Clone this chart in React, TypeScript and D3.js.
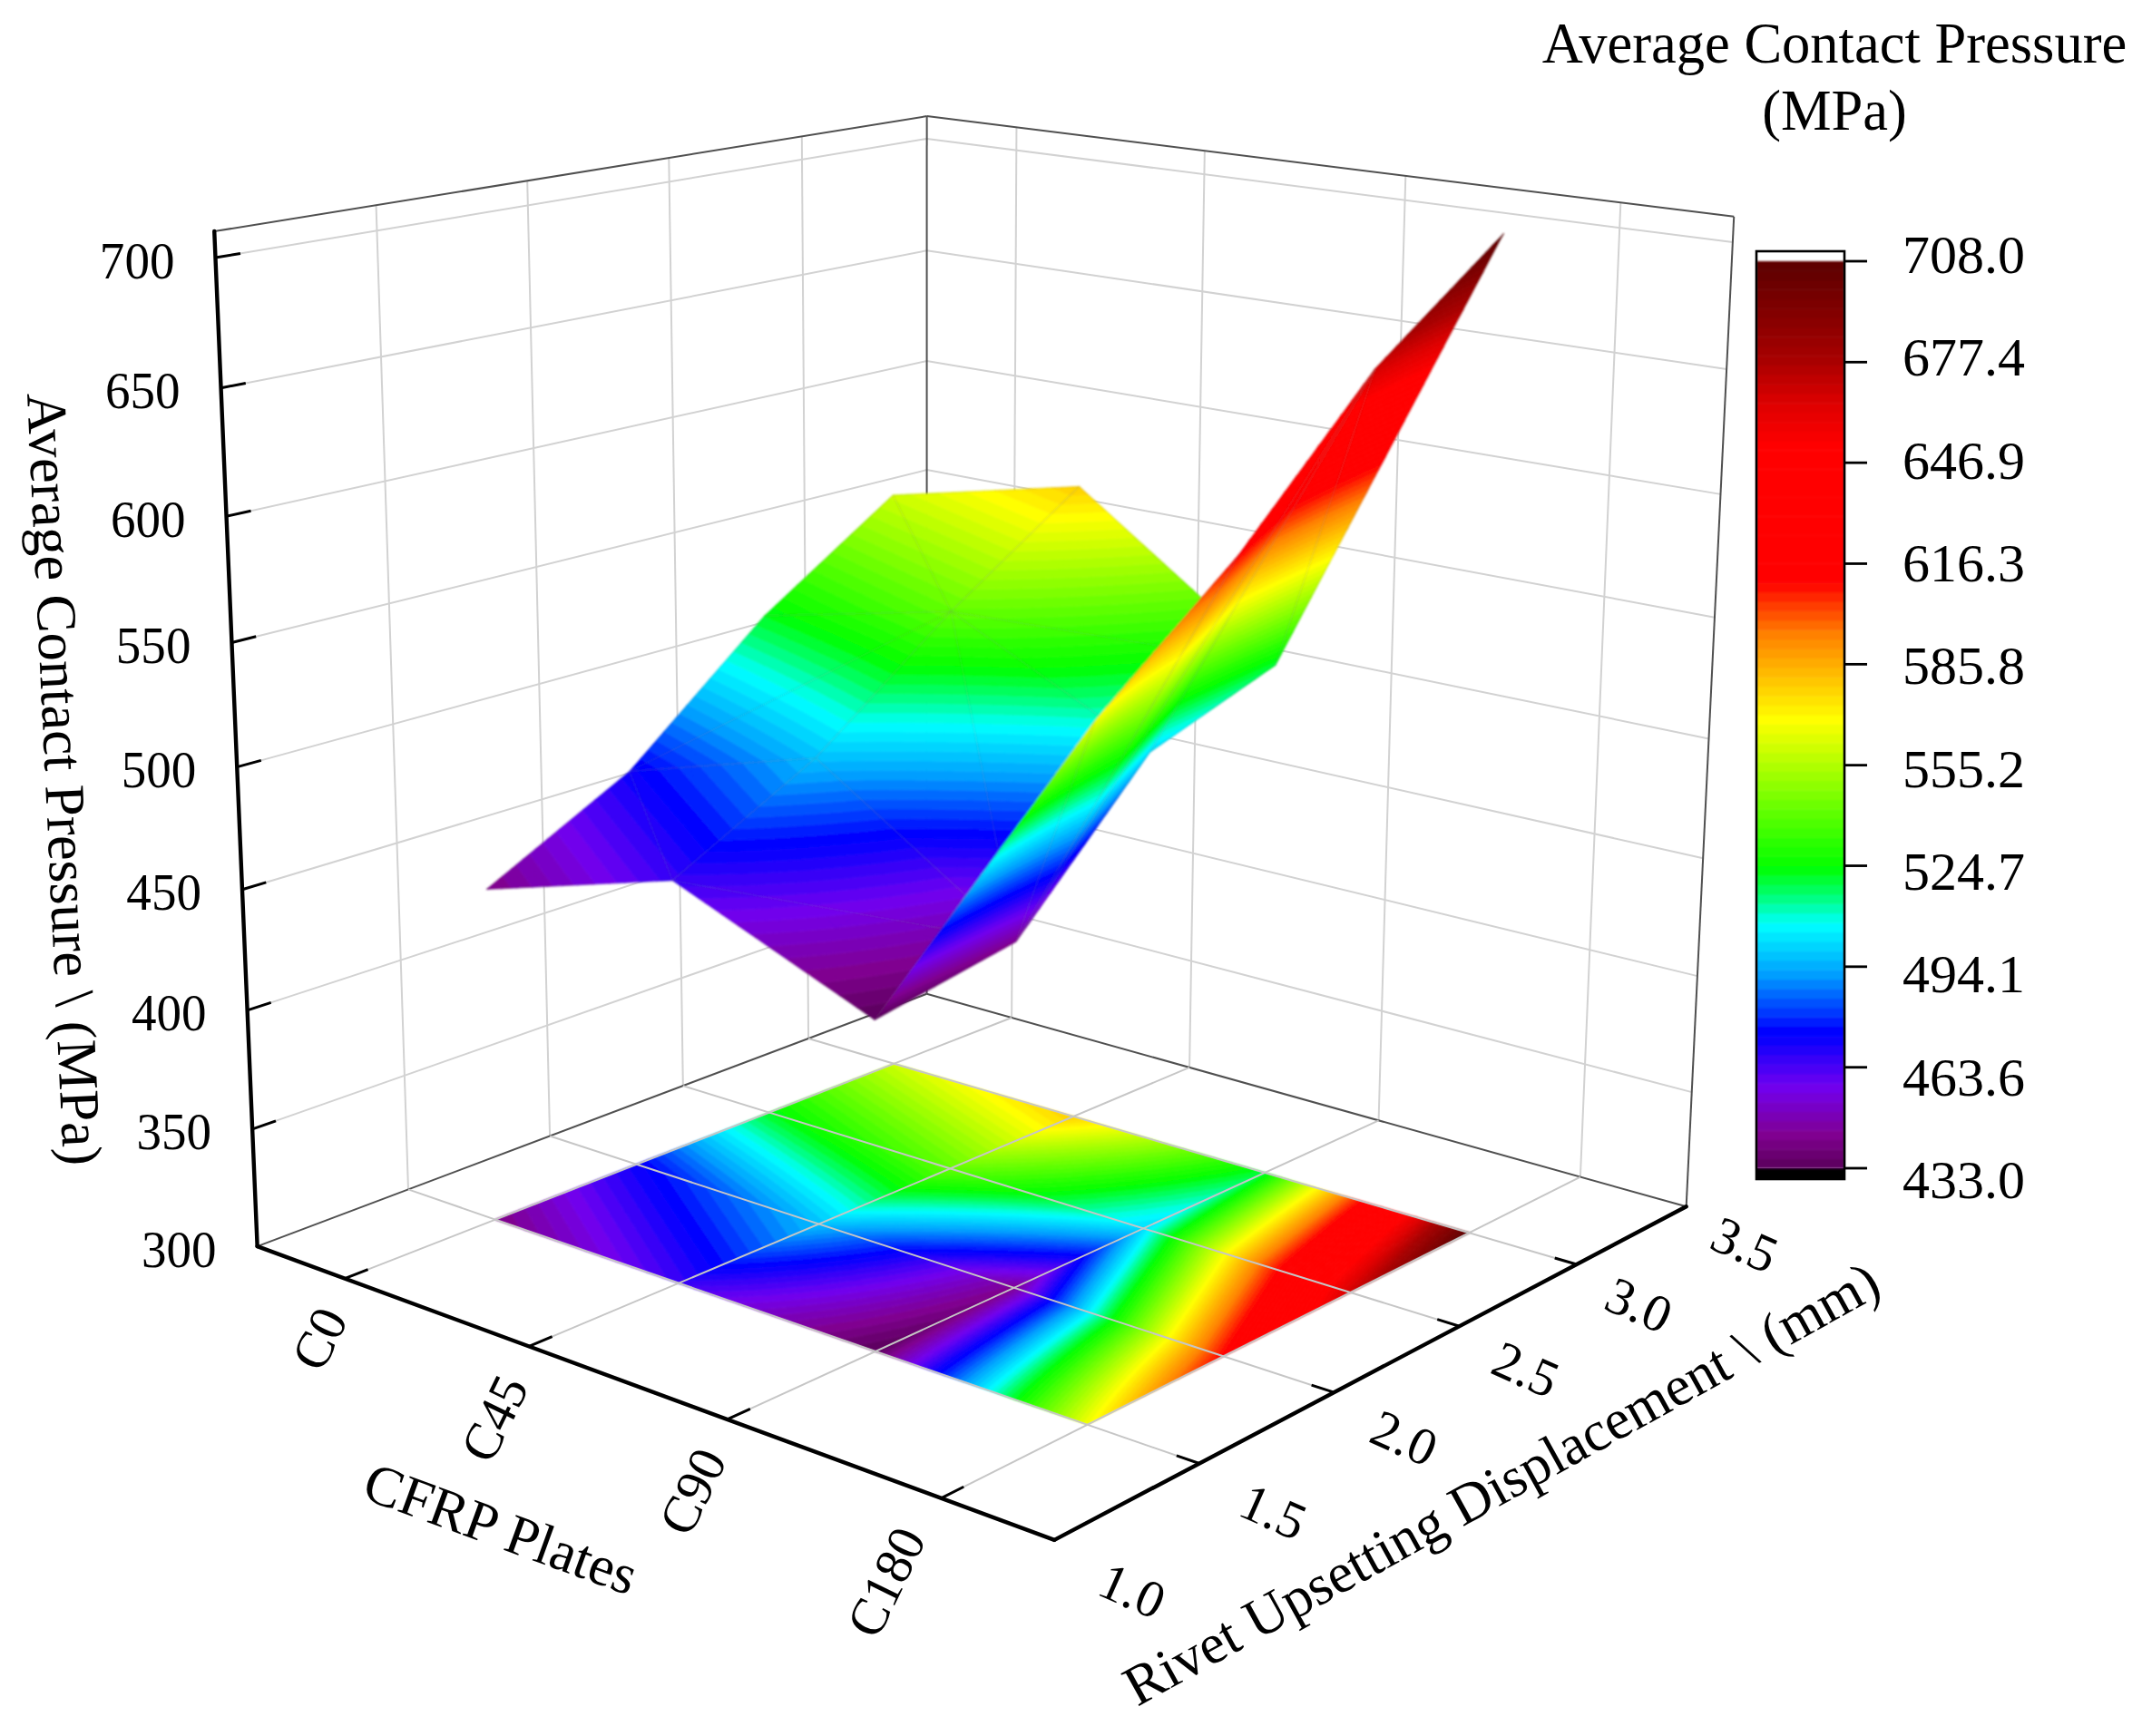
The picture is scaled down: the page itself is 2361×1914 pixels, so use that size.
import * as d3 from "d3";

// data: average contact pressure per CFRP plate, one value per upsetting displacement
const plates = ["C0", "C45", "C90", "C180"];
const displacements = [1.5, 2.0, 2.5, 3.0];
const pressureC0 = [441, 472, 522, 560];
const pressureC45 = [466, 497, 541, 579];
const pressureC90 = [433, 443, 501, 520];
const pressureC180 = [567, 612, 668, 708];
const pressure = [pressureC0, pressureC45, pressureC90, pressureC180];

const displacementTicks = [1.0, 1.5, 2.0, 2.5, 3.0, 3.5];
const pressureTicks = [300, 350, 400, 450, 500, 550, 600, 650, 700];
const colorbarTicks = [433.0, 463.6, 494.1, 524.7, 555.2, 585.8, 616.3, 646.9, 677.4, 708.0];

const stopValues = [433, 443, 458, 474, 492, 507, 515, 524, 569, 595, 611, 652, 665, 678, 708];
const stopColors = ["#5a005a", "#800090", "#7000f0", "#0000ff", "#00a0ff", "#00ffff", "#00ff80", "#00ff00", "#ffff00", "#ff8000", "#ff0000", "#ff0000", "#dd0000", "#a80000", "#5a0000"];
const levelCount = 96;

const W = 2361;
const H = 1914;
const FONT = "'Liberation Serif', 'Times New Roman', serif";

// the box in the picture: unit cube corner -> pixel, used to fit the camera
const boxAnchors: [number, number, number, number, number][] = [
  [0, 0, 0, 284, 1374],
  [1, 0, 0, 1162, 1698],
  [1, 1, 0, 1859, 1330],
  [0, 1, 0, 1021, 1096],
  [0, 0, 1, 236, 255],
  [0, 1, 1, 1022, 128],
  [1, 1, 1, 1911, 239],
];

function fitCamera(): number[] {
  const rows: number[][] = [];
  const rhs: number[] = [];
  for (const [u, v, w, px, py] of boxAnchors) {
    const X = px / 1000;
    const Y = py / 1000;
    rows.push([u, v, w, 1, 0, 0, 0, 0, -u * X, -v * X, -w * X]);
    rhs.push(X);
    rows.push([0, 0, 0, 0, u, v, w, 1, -u * Y, -v * Y, -w * Y]);
    rhs.push(Y);
  }
  const n = 11;
  const m = d3.range(n).map((a) =>
    d3.range(n + 1).map((b) =>
      d3.sum(rows, (r, k) => r[a] * (b === n ? rhs[k] : r[b])),
    ),
  );
  for (let c = 0; c < n; c++) {
    let best = c;
    for (let r = c + 1; r < n; r++) if (Math.abs(m[r][c]) > Math.abs(m[best][c])) best = r;
    [m[c], m[best]] = [m[best], m[c]];
    for (let r = 0; r < n; r++) {
      if (r === c) continue;
      const f = m[r][c] / m[c][c];
      for (let k = c; k <= n; k++) m[r][k] -= f * m[c][k];
    }
  }
  return d3.range(n).map((i) => m[i][n] / m[i][i]);
}

const cam = fitCamera();
const xScale = d3.scaleLinear().domain([-0.5, 3.5]).range([0, 1]);
const yScale = d3.scaleLinear().domain([1, 3.5]).range([0, 1]);
const zScale = d3.scaleLinear().domain([300, 710]).range([0, 1]);

// x is the plate index, y the displacement, z the pressure
function project(x: number, y: number, z: number): [number, number] {
  const u = xScale(x);
  const v = yScale(y);
  const w = zScale(z);
  const d = cam[8] * u + cam[9] * v + cam[10] * w + 1;
  return [
    (1000 * (cam[0] * u + cam[1] * v + cam[2] * w + cam[3])) / d,
    (1000 * (cam[4] * u + cam[5] * v + cam[6] * w + cam[7])) / d,
  ];
}

const colorScale = d3.scaleLinear<string>().domain(stopValues).range(stopColors).interpolate(d3.interpolateRgb);
const levelEdges = d3.range(levelCount + 1).map((k) => 433 + (k * 275) / levelCount);
const levelColors = d3.range(levelCount).map((k) => colorScale((levelEdges[k] + levelEdges[k + 1]) / 2));

type Pt = [number, number, number];

function clip(poly: Pt[], limit: number, keepAbove: boolean): Pt[] {
  const out: Pt[] = [];
  poly.forEach((a, i) => {
    const b = poly[(i + 1) % poly.length];
    const aIn = keepAbove ? a[2] >= limit : a[2] <= limit;
    const bIn = keepAbove ? b[2] >= limit : b[2] <= limit;
    if (aIn) out.push(a);
    if (aIn !== bIn) {
      const t = (limit - a[2]) / (b[2] - a[2]);
      out.push([a[0] + t * (b[0] - a[0]), a[1] + t * (b[1] - a[1]), limit]);
    }
  });
  return out;
}

// one path per colour level for one grid cell, bilinear inside the cell
function cellBands(i: number, j: number, flat: boolean) {
  const steps = 12;
  const q00 = pressure[i][j];
  const q10 = pressure[i + 1][j];
  const q01 = pressure[i][j + 1];
  const q11 = pressure[i + 1][j + 1];
  const y0 = displacements[j];
  const y1 = displacements[j + 1];
  const at = (s: number, t: number): Pt => [
    i + s,
    y0 + t * (y1 - y0),
    (1 - s) * (1 - t) * q00 + s * (1 - t) * q10 + (1 - s) * t * q01 + s * t * q11,
  ];
  const paths: string[] = levelColors.map(() => "");
  const addTri = (tri: Pt[]) => {
    const lo = d3.min(tri, (p) => p[2])!;
    const hi = d3.max(tri, (p) => p[2])!;
    for (let k = 0; k < levelCount; k++) {
      if (levelEdges[k + 1] < lo || levelEdges[k] > hi) continue;
      const part = k === levelCount - 1 ? clip(tri, levelEdges[k], true) : clip(clip(tri, levelEdges[k], true), levelEdges[k + 1], false);
      if (part.length < 3) continue;
      paths[k] += "M" + part.map((p) => project(p[0], p[1], flat ? 300 : p[2]).map((c) => c.toFixed(1)).join(",")).join("L") + "Z";
    }
  };
  for (let a = 0; a < steps; a++) {
    for (let b = steps - 1; b >= 0; b--) {
      const s0 = a / steps;
      const s1 = (a + 1) / steps;
      const t0 = b / steps;
      const t1 = (b + 1) / steps;
      addTri([at(s0, t0), at(s1, t0), at(s1, t1)]);
      addTri([at(s0, t0), at(s1, t1), at(s0, t1)]);
    }
  }
  return paths;
}

// far cells first, the camera looks from the high plate / low displacement corner
const cells: [number, number][] = [];
for (let i = 0; i < plates.length - 1; i++) {
  for (let j = displacements.length - 2; j >= 0; j--) cells.push([i, j]);
}

function line3(a: Pt, b: Pt) {
  const p = project(a[0], a[1], a[2]);
  const q = project(b[0], b[1], b[2]);
  return { x1: p[0], y1: p[1], x2: q[0], y2: q[1] };
}

function meshLines(i: number, j: number) {
  const v = (a: number, b: number): Pt => [a, displacements[b], pressure[a][b]];
  const segs: [Pt, Pt][] = [
    [v(i, j), v(i + 1, j)],
    [v(i, j), v(i, j + 1)],
    [v(i + 1, j), v(i + 1, j + 1)],
    [v(i, j + 1), v(i + 1, j + 1)],
    (i + j) % 2 === 1 ? [v(i, j), v(i + 1, j + 1)] : [v(i + 1, j), v(i, j + 1)],
  ];
  return segs;
}

const colorbarY = d3.scaleLinear().domain([433, 708]).range([1288, 288]);
const colorbarLabelY = d3.scaleLinear().domain([433, 708]).range([1321, 301]);

const plateIdx = plates.map((_, i) => i);
const yMin = 1;
const yMax = 3.5;
const xMin = -0.5;
const xMax = 3.5;
const zMin = 300;
const zMax = 710;

const GRID = "#d2d2d2";
const FRAME = "#505050";

export default function App() {
  return (
    <svg width={W} height={H} viewBox={`0 0 ${W} ${H}`} style={{ position: "absolute", left: 0, top: 0, background: "#fff" }} fontFamily={FONT}>
      <defs>
        <filter id="soft" filterUnits="userSpaceOnUse" x={0} y={0} width={W} height={H}>
          <feGaussianBlur stdDeviation={0.9} />
        </filter>
      </defs>

      {/* wall grid */}
      <g stroke={GRID} strokeWidth={2}>
        {pressureTicks.slice(1).map((z) => (
          <g key={z}>
            <line {...line3([xMin, yMin, z], [xMin, yMax, z])} />
            <line {...line3([xMin, yMax, z], [xMax, yMax, z])} />
          </g>
        ))}
        {displacementTicks.slice(1, -1).map((y) => (
          <line key={y} {...line3([xMin, y, zMin], [xMin, y, zMax])} />
        ))}
        {plateIdx.map((x) => (
          <line key={x} {...line3([x, yMax, zMin], [x, yMax, zMax])} />
        ))}
      </g>

      {/* thin box edges */}
      <g stroke={FRAME} strokeWidth={2}>
        <line {...line3([xMin, yMin, zMax], [xMin, yMax, zMax])} />
        <line {...line3([xMin, yMax, zMax], [xMax, yMax, zMax])} />
        <line {...line3([xMin, yMax, zMin], [xMin, yMax, zMax])} />
        <line {...line3([xMax, yMax, zMin], [xMax, yMax, zMax])} />
        <line {...line3([xMin, yMin, zMin], [xMin, yMax, zMin])} />
        <line {...line3([xMin, yMax, zMin], [xMax, yMax, zMin])} />
      </g>

      {/* contour on the floor */}
      <g filter="url(#soft)">
        {cells.map(([i, j]) => (
          <g key={`floor-${i}-${j}`}>
            {cellBands(i, j, true).map((d, k) =>
              d ? <path key={k} d={d} fill={levelColors[k]} stroke={levelColors[k]} strokeWidth={0.7} /> : null,
            )}
          </g>
        ))}
      </g>

      {/* floor grid goes over the contour */}
      <g stroke="#c6c6c6" strokeWidth={2}>
        {plateIdx.map((x) => (
          <line key={x} {...line3([x, yMin, zMin], [x, yMax, zMin])} />
        ))}
        {displacementTicks.slice(1, -1).map((y) => (
          <line key={y} {...line3([xMin, y, zMin], [xMax, y, zMin])} />
        ))}
      </g>

      {/* surface */}
      <g filter="url(#soft)">
        {cells.map(([i, j]) => (
          <g key={`surface-${i}-${j}`}>
            {cellBands(i, j, false).map((d, k) =>
              d ? <path key={k} d={d} fill={levelColors[k]} stroke={levelColors[k]} strokeWidth={0.7} /> : null,
            )}
            <g stroke="#777" strokeOpacity={0.16} strokeWidth={1.4}>
              {meshLines(i, j).map((s, k) => (
                <line key={k} {...line3(s[0], s[1])} />
              ))}
            </g>
          </g>
        ))}
      </g>

      {/* axes */}
      <g stroke="#000" strokeWidth={4.4} strokeLinecap="round">
        <line {...line3([xMin, yMin, zMin], [xMin, yMin, zMax])} />
        <line {...line3([xMin, yMin, zMin], [xMax, yMin, zMin])} />
        <line {...line3([xMax, yMin, zMin], [xMax, yMax, zMin])} />
      </g>
      <g stroke="#000" strokeWidth={3}>
        {pressureTicks.slice(1).map((z) => (
          <line key={z} {...line3([xMin, yMin, z], [xMin, yMin + 0.075, z])} />
        ))}
        {plateIdx.map((x) => (
          <line key={x} {...line3([x, yMin, zMin], [x, yMin + 0.075, zMin])} />
        ))}
        {displacementTicks.slice(1, -1).map((y) => (
          <line key={y} {...line3([xMax, y, zMin], [xMax - 0.1, y, zMin])} />
        ))}
      </g>

      {/* tick labels */}
      <g fontSize={58} fill="#000">
        {pressureTicks.map((z) => {
          const [px, py] = project(xMin, yMin, z);
          return (
            <text key={z} textAnchor="end" dominantBaseline="central" transform={`translate(${px - 45},${py + 3}) scale(0.95,1)`}>
              {z}
            </text>
          );
        })}
        {plates.map((name, x) => {
          const [px, py] = project(x, yMin, zMin);
          // the longest label sits a little further from its tick
          const dx = name === "C180" ? -33 : name === "C0" ? -13 : -17;
          return (
            <text key={name} textAnchor="end" dominantBaseline="central" transform={`translate(${px + dx},${py + 36}) rotate(-64)`}>
              {name}
            </text>
          );
        })}
        {displacementTicks.map((y) => {
          const [px, py] = project(xMax, y, zMin);
          const f = 1 - (0.25 * (y - yMin)) / (yMax - yMin);
          return (
            <text key={y} textAnchor="middle" dominantBaseline="central" transform={`translate(${px + 86 * f},${py + 56 * f}) rotate(24)`}>
              {y.toFixed(1)}
            </text>
          );
        })}
      </g>

      {/* axis titles */}
      <g fontSize={62.5} fill="#000" textAnchor="middle">
        <text transform="translate(50,860) rotate(87.3)">Average Contact Pressure \ (MPa)</text>
        <text transform="translate(545,1705) rotate(20)">CFRP Plates</text>
        <text transform="translate(1665,1654) rotate(-29)">Rivet Upsetting Displacement \ (mm)</text>
      </g>

      {/* colour bar */}
      <rect x={1936} y={277} width={97} height={1023} fill="#fff" />
      <rect x={1936} y={colorbarY(433)} width={97} height={12} fill="#000" />
      <g filter="url(#soft)">
        {levelColors.map((c, k) => (
          <rect key={k} x={1936} y={colorbarY(levelEdges[k + 1])} width={97} height={colorbarY(levelEdges[k]) - colorbarY(levelEdges[k + 1]) + 0.5} fill={c} />
        ))}
      </g>
      <rect x={1936} y={277} width={97} height={1023} fill="none" stroke="#000" strokeWidth={2.6} />
      <g stroke="#000" strokeWidth={2.8}>
        {colorbarTicks.map((v) => (
          <line key={v} x1={2033} x2={2058} y1={colorbarY(v)} y2={colorbarY(v)} />
        ))}
      </g>
      <g fontSize={60} fill="#000">
        {colorbarTicks.map((v) => (
          <text key={v} x={2097} y={colorbarLabelY(v)}>
            {v.toFixed(1)}
          </text>
        ))}
      </g>
      <g fontSize={62.5} fill="#000" textAnchor="middle">
        <text x={2022} y={69}>Average Contact Pressure</text>
        <text x={2022} y={143}>(MPa)</text>
      </g>
    </svg>
  );
}
